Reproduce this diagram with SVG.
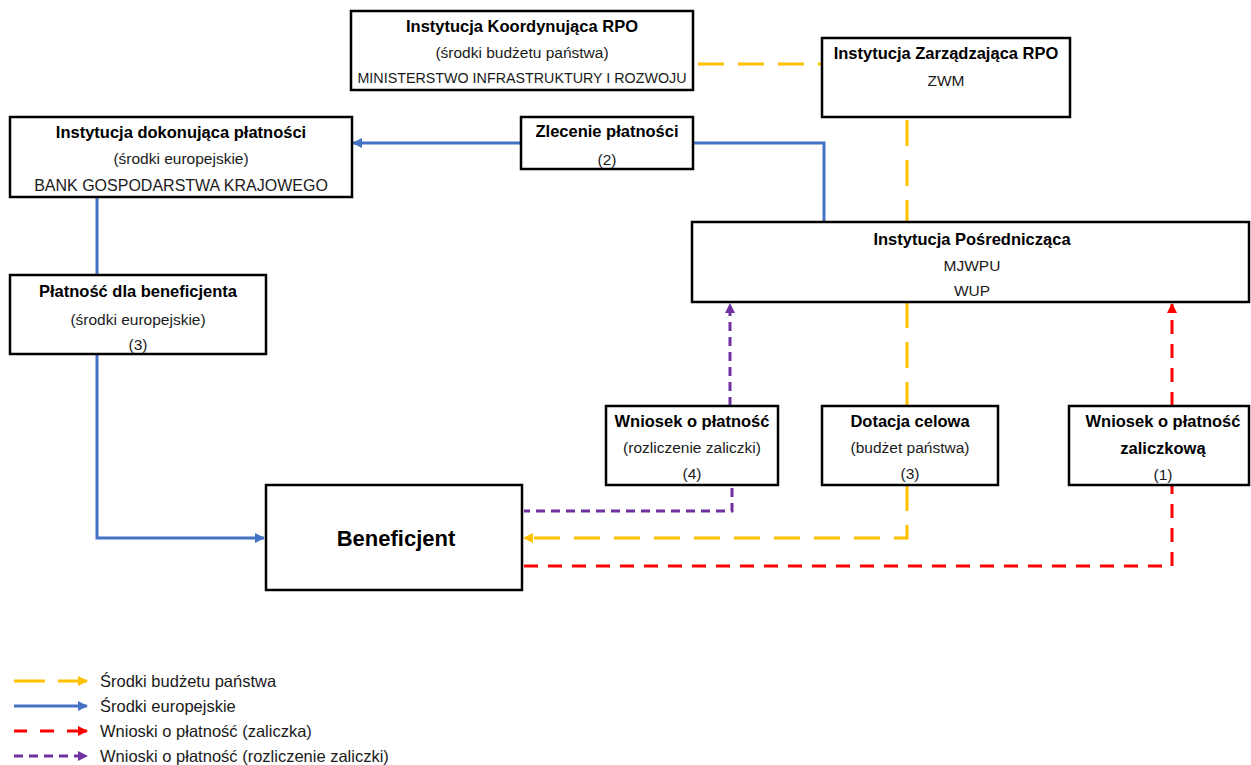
<svg xmlns="http://www.w3.org/2000/svg" width="1251" height="765" viewBox="0 0 1251 765">
<defs>
<style>
.box{fill:#fff;stroke:#000;stroke-width:2.5}
.t{font-family:"Liberation Sans",Arial,sans-serif;font-size:15.5px;fill:#1a1a1a;text-anchor:middle}
.b{font-family:"Liberation Sans",Arial,sans-serif;font-size:16.5px;font-weight:bold;fill:#000;text-anchor:middle}
.lg{font-family:"Liberation Sans",Arial,sans-serif;font-size:16.5px;fill:#1a1a1a}
.c{fill:none;stroke-width:3}
.y{stroke:#FFC000;stroke-dasharray:26 14}
.bl{stroke:#4472C4}
.r{stroke:#FF0000;stroke-dasharray:14 10}
.p{stroke:#7030A0;stroke-dasharray:9 6}
</style>
<marker id="aY" markerWidth="10" markerHeight="10" refX="9" refY="5" orient="auto" markerUnits="userSpaceOnUse"><path d="M0,0 L10,5 L0,10 z" fill="#FFC000"/></marker>
<marker id="aB" markerWidth="10" markerHeight="10" refX="9" refY="5" orient="auto" markerUnits="userSpaceOnUse"><path d="M0,0 L10,5 L0,10 z" fill="#4472C4"/></marker>
<marker id="aR" markerWidth="10" markerHeight="10" refX="9" refY="5" orient="auto" markerUnits="userSpaceOnUse"><path d="M0,0 L10,5 L0,10 z" fill="#FF0000"/></marker>
<marker id="aP" markerWidth="10" markerHeight="10" refX="9" refY="5" orient="auto" markerUnits="userSpaceOnUse"><path d="M0,0 L10,5 L0,10 z" fill="#7030A0"/></marker>
</defs>
<rect width="1251" height="765" fill="#fff"/>

<g id="connectors">
<path class="c y" d="M698,64 H822"/>
<path class="c y" d="M907,120 V222"/>
<path class="c bl" d="M521,143 H353" marker-end="url(#aB)"/>
<path class="c bl" d="M693,143 H824 V222"/>
<path class="c bl" d="M97,197 V275"/>
<path class="c bl" d="M97,354 V538 H264" marker-end="url(#aB)"/>
<path class="c p" d="M730,406 V304" marker-end="url(#aP)"/>
<path class="c p" d="M732,488 V511 H524"/>
<path class="c y" d="M907,302 V406"/>
<path class="c y" d="M907,485 V538 H524" marker-end="url(#aY)"/>
<path class="c r" d="M524,566 H1172 V485"/>
<path class="c r" d="M1172,406 V304" marker-end="url(#aR)"/>
</g>

<g id="n-koord">
<rect class="box" x="351" y="11" width="342" height="79"/>
<text class="b" x="522" y="32">Instytucja Koordynująca RPO</text>
<text class="t" x="522" y="58">(środki budżetu państwa)</text>
<text class="t" x="522" y="83" style="font-size:14.3px">MINISTERSTWO INFRASTRUKTURY I ROZWOJU</text>
</g>
<g id="n-zarz">
<rect class="box" x="822" y="38" width="248" height="79"/>
<text class="b" x="946" y="59">Instytucja Zarządzająca RPO</text>
<text class="t" x="946" y="86">ZWM</text>
</g>
<g id="n-dokon">
<rect class="box" x="10" y="117" width="342" height="80"/>
<text class="b" x="181" y="138">Instytucja dokonująca płatności</text>
<text class="t" x="181" y="164">(środki europejskie)</text>
<text class="t" x="181" y="191" style="font-size:16px">BANK GOSPODARSTWA KRAJOWEGO</text>
</g>
<g id="n-zlec">
<rect class="box" x="521" y="117" width="172" height="52"/>
<text class="b" x="607" y="137">Zlecenie płatności</text>
<text class="t" x="607" y="165">(2)</text>
</g>
<g id="n-posr">
<rect class="box" x="692" y="222" width="557" height="80"/>
<text class="b" x="972" y="245">Instytucja Pośrednicząca</text>
<text class="t" x="972" y="271">MJWPU</text>
<text class="t" x="972" y="296">WUP</text>
</g>
<g id="n-platn">
<rect class="box" x="10" y="275" width="256" height="79"/>
<text class="b" x="138" y="297">Płatność dla beneficjenta</text>
<text class="t" x="138" y="325">(środki europejskie)</text>
<text class="t" x="138" y="350">(3)</text>
</g>
<g id="n-wn4">
<rect class="box" x="606" y="406" width="172" height="79"/>
<text class="b" x="692" y="427">Wniosek o płatność</text>
<text class="t" x="692" y="453">(rozliczenie zaliczki)</text>
<text class="t" x="692" y="479">(4)</text>
</g>
<g id="n-dot">
<rect class="box" x="822" y="406" width="176" height="79"/>
<text class="b" x="910" y="427">Dotacja celowa</text>
<text class="t" x="910" y="453">(budżet państwa)</text>
<text class="t" x="910" y="479">(3)</text>
</g>
<g id="n-wn1">
<rect class="box" x="1069" y="406" width="180" height="79"/>
<text class="b" x="1163" y="427">Wniosek o płatność</text>
<text class="b" x="1163" y="454">zaliczkową</text>
<text class="t" x="1163" y="480">(1)</text>
</g>
<g id="n-benef">
<rect class="box" x="266" y="485" width="256" height="105"/>
<text class="b" x="396" y="546" style="font-size:22px">Beneficjent</text>
</g>

<g id="legend">
<path class="c" d="M14,681 H45 M58,681 H87" stroke="#FFC000" marker-end="url(#aY)"/>
<path class="c" d="M14,706 H87" stroke="#4472C4" marker-end="url(#aB)"/>
<path class="c" d="M14,731 H27 M40,731 H54 M67,731 H87" stroke="#FF0000" marker-end="url(#aR)"/>
<path class="c" d="M14,756 H87" stroke="#7030A0" stroke-dasharray="9 6" marker-end="url(#aP)"/>
<text class="lg" x="100" y="687">Środki budżetu państwa</text>
<text class="lg" x="100" y="712">Środki europejskie</text>
<text class="lg" x="100" y="737">Wnioski o płatność (zaliczka)</text>
<text class="lg" x="100" y="762">Wnioski o płatność (rozliczenie zaliczki)</text>
</g>
</svg>
